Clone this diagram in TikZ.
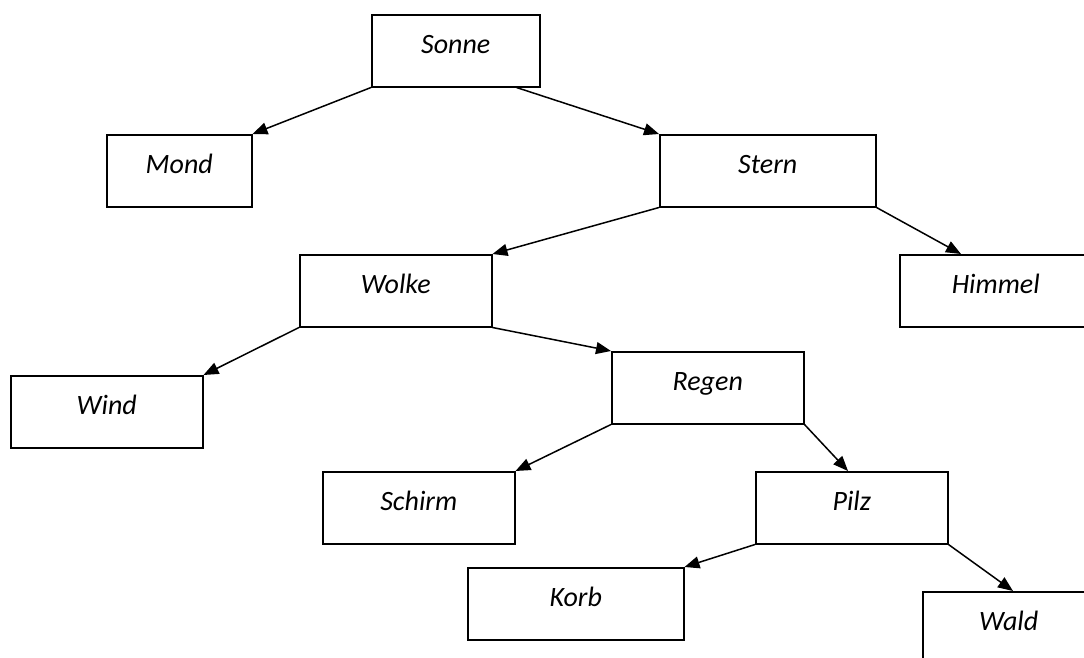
\documentclass[tikz,border=0pt]{standalone}
\usepackage{fontspec}
\setmainfont{Carlito}
\usetikzlibrary{arrows.meta}

\tikzset{
  box/.style={draw, line width=1.5pt, inner sep=0pt, anchor=north west,
    minimum width=#1, text height=39pt, text depth=33pt,
    font=\fontsize{28}{30}\selectfont\itshape},
  link/.style={line width=1.5pt, -{Triangle[length=15pt,width=12pt]}}
}

\begin{document}
\begin{tikzpicture}[x=1pt, y=-1pt]
  \useasboundingbox (0,0) rectangle (1084,657);
  \fill[white] (0,0) rectangle (1084,657);
  \clip (0,0) rectangle (1084,657);

  % word tree
  \node[box=168pt] (sonne)  at (371,14)  {Sonne};
  \node[box=145pt] (mond)   at (106,134) {Mond};
  \node[box=216pt] (stern)  at (659,134) {Stern};
  \node[box=192pt] (wolke)  at (299,254) {Wolke};
  \node[box=192pt] (himmel) at (899,254) {Himmel};
  \node[box=192pt] (wind)   at (10,375)  {Wind};
  \node[box=192pt] (regen)  at (611,351) {Regen};
  \node[box=192pt] (schirm) at (322,471) {Schirm};
  \node[box=192pt] (pilz)   at (755,471) {Pilz};
  \node[box=216pt] (korb)   at (467,567) {Korb};
  \node[box=172pt] (wald)   at (922,591) {Wald};

  % parent-to-child connectors
  \draw[link] (sonne.south west) -- (mond.north east);
  \draw[link] ([xshift=-24pt]sonne.south east) -- (stern.north west);
  \draw[link] (stern.south west) -- (wolke.north east);
  \draw[link] (stern.south east) -- ([xshift=62pt]himmel.north west);
  \draw[link] (wolke.south west) -- (wind.north east);
  \draw[link] (wolke.south east) -- (regen.north west);
  \draw[link] (regen.south west) -- (schirm.north east);
  \draw[link] (regen.south east) -- ([xshift=93pt]pilz.north west);
  \draw[link] (pilz.south west) -- (korb.north east);
  \draw[link] (pilz.south east) -- ([xshift=91pt]wald.north west);
\end{tikzpicture}
\end{document}
